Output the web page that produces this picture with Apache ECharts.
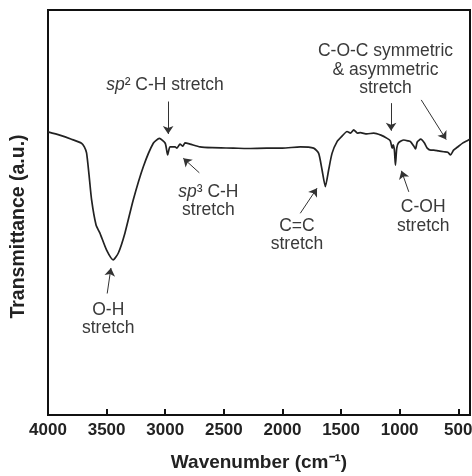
<!DOCTYPE html>
<html>
<head>
<meta charset="utf-8">
<script src="https://cdn.jsdelivr.net/npm/echarts@6/dist/echarts.min.js"></script>
<style>
html,body{margin:0;padding:0;background:#fff}
#ftir{width:472px;height:476px}
</style>
</head>
<body>
<div id="ftir"></div>
<script>
// FTIR spectrum (transmittance in arbitrary units 0..100)
var wavenumber = [4000,3900,3800,3714,3690,3671,3650,3628,3590,3557,3500,3444,3400,3344,3273,3187,3102,3050,
	3000,2979,2960,2916,2900,2874,2850,2831,2788,2703,2600,2418,2300,2133,2000,1848,1734,1691,1662,1634,
	1606,1577,1534,1490,1449,1420,1392,1360,1335,1280,1221,1160,1107,1080,1064,1055,1045,1036,1025,1010,
	965,930,908,880,865,850,820,790,765,735,708,670,623,590,566,540,509,460,420,400];
var transmittance = [69.9,69.1,68.1,67.1,66.2,64.7,59.3,53.1,46.9,44.9,40.7,38.3,40.0,44.9,53.1,61.3,67.1,68.3,
	67.1,64.2,66.2,66.2,65.9,66.9,66.4,67.2,66.9,66.2,66.0,65.9,65.8,65.9,65.9,66.2,65.9,64.6,60.5,56.4,
	60.5,64.6,67.5,68.9,70.0,69.6,70.4,69.6,69.7,69.4,69.6,69.1,68.3,67.7,65.9,66.7,65.4,61.7,65.9,67.2,
	67.9,67.7,67.5,66.4,65.7,67.4,68.1,67.2,65.9,65.4,65.4,65.2,65.0,64.9,64.2,65.4,66.1,67.2,67.8,68.1];
var tickValues = [500,1000,1500,2000,2500,3000,3500,4000];

// peak labels: text and where it sits (data units)
var noteText = ['{i|sp}² C-H stretch', '{i|sp}³ C-H\nstretch', 'O-H\nstretch', 'C=C\nstretch',
	'C-OH\nstretch', 'C-O-C symmetric\n& asymmetric\nstretch'];
var noteAt = [[3002,81.5],[2632,52.8],[3486,23.7],[1876,44.4],[799,49.0],[1121,85.2]];
// arrows: tail -> head (data units)
var arrowFrom = [[2975,77.4],[2709,59.8],[3495,30.0],[1848,49.8],[922,55.1],[1073,77.0],[816,77.8]];
var arrowTo = [[2975,69.4],[2846,63.4],[3463,36.3],[1705,56.0],[985,60.3],[1073,70.2],[603,68.0]];

var chart = echarts.init(document.getElementById('ftir'));
var font = 'Liberation Sans, Arial, sans-serif';

var arrows = [];
for (var i = 0; i < arrowFrom.length; i++) {
	arrows.push([{coord: arrowFrom[i]}, {coord: arrowTo[i]}]);
}
var points = [];
for (var j = 0; j < wavenumber.length; j++) {
	points.push([wavenumber[j], transmittance[j]]);
}

chart.setOption({
	animation: false,
	backgroundColor: '#fff',
	grid: {left: 48, right: 2, top: 10, bottom: 61, show: true, borderColor: '#111', borderWidth: 2,
		containLabel: false, outerBoundsMode: 'none'},
	xAxis: {
		type: 'value', inverse: true, min: 400, max: 4000,
		axisLine: {show: false},
		splitLine: {show: false},
		axisTick: {show: true, inside: true, length: 6, customValues: tickValues, lineStyle: {color: '#111', width: 2}},
		axisLabel: {customValues: tickValues, margin: 7, fontSize: 17, fontWeight: 'bold', color: '#222', fontFamily: font,
			hideOverlap: false, showMinLabel: true, showMaxLabel: true,
			formatter: function (v) { return String(v); }},
		name: 'Wavenumber (cm⁻¹)', nameLocation: 'middle', nameGap: 38,
		nameTextStyle: {fontSize: 19, fontWeight: 'bold', color: '#222', fontFamily: font}
	},
	yAxis: {
		type: 'value', min: 0, max: 100,
		axisLine: {show: false}, axisTick: {show: false}, axisLabel: {show: false}, splitLine: {show: false},
		name: 'Transmittance (a.u.)', nameLocation: 'middle', nameGap: 19,
		nameTextStyle: {fontSize: 19.5, fontWeight: 'bold', color: '#222', fontFamily: font, padding: [0, 28, 0, 0]}
	},
	series: [{
		type: 'line',
		data: points,
		showSymbol: false,
		smooth: 0.2,
		lineStyle: {color: '#222', width: 1.7},
		markLine: {
			silent: true,
			symbol: ['none', 'arrow'],
			symbolSize: 8,
			label: {show: false},
			lineStyle: {color: '#333', width: 1, type: 'solid'},
			emphasis: {disabled: true},
			data: arrows
		}
	}]
});

// put the labels at their data positions
var texts = [];
for (var k = 0; k < noteText.length; k++) {
	var p = chart.convertToPixel({gridIndex: 0}, noteAt[k]);
	texts.push({
		type: 'text', x: p[0], y: p[1], silent: true,
		style: {
			text: noteText[k], align: 'center', verticalAlign: 'middle',
			fontSize: 17.5, fontFamily: font, lineHeight: 18.5, fill: '#3a3a3a',
			rich: {i: {fontStyle: 'italic', fontSize: 17.5, fontFamily: font, fill: '#3a3a3a'}}
		}
	});
}
chart.setOption({graphic: texts});
</script>
</body>
</html>
